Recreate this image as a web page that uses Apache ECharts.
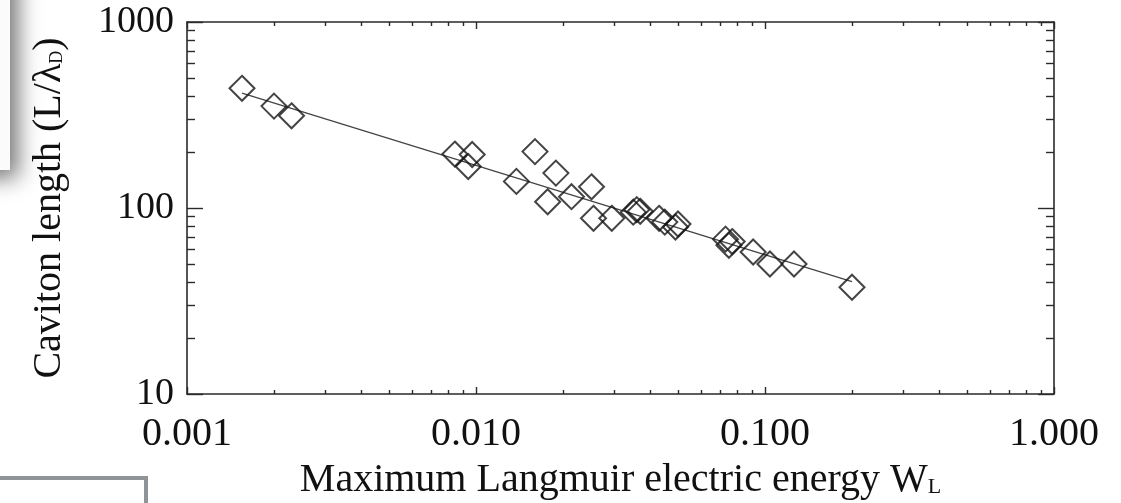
<!DOCTYPE html>
<html>
<head>
<meta charset="utf-8">
<style>
  html, body { margin: 0; padding: 0; background: #ffffff; }
  #chart { width: 1121px; height: 503px; }
</style>
<script src="https://cdn.jsdelivr.net/npm/echarts@6/dist/echarts.min.js"></script>
</head>
<body>
<div id="chart"></div>
<script>
// ---- data ----
const energyW = [0.00155, 0.0020, 0.0023, 0.00845, 0.0097, 0.0094, 0.0138, 0.016, 0.0177, 0.0189,
                 0.0214, 0.0251, 0.0255, 0.0295, 0.035, 0.036, 0.037, 0.043, 0.045, 0.049,
                 0.050, 0.073, 0.075, 0.077, 0.091, 0.104, 0.126, 0.20];
const cavitonLength = [440, 353, 313, 195, 194, 167, 139, 201, 108, 154,
                       115, 130, 88, 88, 95, 98, 96, 88, 84, 79,
                       82, 68, 63, 66, 58, 50, 50, 37.5];
const fitW = [0.00155, 0.20];
const fitL = [414, 40.2];

const xMajorTicks = [0.001, 0.01, 0.1, 1];
const xMinorTicks = [0.002, 0.003, 0.004, 0.005, 0.006, 0.007, 0.008, 0.009,
                     0.02, 0.03, 0.04, 0.05, 0.06, 0.07, 0.08, 0.09,
                     0.2, 0.3, 0.4, 0.5, 0.6, 0.7, 0.8, 0.9];
const yMajorTicks = [10, 100, 1000];
const yMinorTicks = [20, 30, 40, 50, 60, 70, 80, 90, 200, 300, 400, 500, 600, 700, 800, 900];

const xTitle = 'Maximum Langmuir electric energy W{sub|L}';
const yTitle = 'Caviton length (L/\u03bb{sub|D})';

// ---- chart ----
const FONT = '"Liberation Serif", "Times New Roman", serif';
const AX = '#2a2a2a';

function xAxisDef(pos, ticks, len, showLine, showLabel) {
  return {
    type: 'log', logBase: 10, min: 0.001, max: 1, position: pos,
    axisLine: { show: showLine, lineStyle: { color: AX, width: 1.6 } },
    axisTick: { show: true, inside: true, length: len, customValues: ticks,
                lineStyle: { color: AX, width: 1.4 } },
    axisLabel: { show: showLabel, customValues: ticks, margin: 20,
                 fontFamily: FONT, fontSize: 40, color: '#111',
                 formatter: v => Number(v).toFixed(3) },
    splitLine: { show: false }, minorTick: { show: false }
  };
}
function yAxisDef(pos, ticks, len, showLine, showLabel) {
  return {
    type: 'log', logBase: 10, min: 10, max: 1000, position: pos,
    axisLine: { show: showLine, lineStyle: { color: AX, width: 1.6 } },
    axisTick: { show: true, inside: true, length: len, customValues: ticks,
                lineStyle: { color: AX, width: 1.4 } },
    axisLabel: { show: showLabel, customValues: ticks, margin: 13,
                 fontFamily: FONT, fontSize: 38, color: '#111',
                 formatter: v => String(Math.round(v)) },
    splitLine: { show: false }, minorTick: { show: false }
  };
}

const xAxes = [
  xAxisDef('bottom', xMajorTicks, 7, true, true),
  xAxisDef('bottom', xMinorTicks, 4, false, false),
  xAxisDef('top', xMajorTicks, 7, true, false),
  xAxisDef('top', xMinorTicks, 4, false, false)
];
Object.assign(xAxes[0], {
  name: xTitle, nameLocation: 'middle', nameGap: 66,
  nameTextStyle: { fontFamily: FONT, fontSize: 40, color: '#111',
    rich: { sub: { fontFamily: FONT, fontSize: 22, color: '#111', padding: [15, 0, 0, 0] } } }
});
const yAxes = [
  yAxisDef('left', yMajorTicks, 16, true, true),
  yAxisDef('left', yMinorTicks, 8, false, false),
  yAxisDef('right', yMajorTicks, 16, true, false),
  yAxisDef('right', yMinorTicks, 8, false, false)
];
Object.assign(yAxes[0], {
  name: yTitle, nameLocation: 'middle', nameGap: 118, nameRotate: 90,
  nameTextStyle: { fontFamily: FONT, fontSize: 40, color: '#111',
    rich: { sub: { fontFamily: FONT, fontSize: 18, color: '#111', padding: [16, 0, 0, 0] } } }
});

const chart = echarts.init(document.getElementById('chart'), null, { renderer: 'canvas' });
chart.setOption({
  animation: false,
  backgroundColor: '#ffffff',
  grid: { left: 187, right: 67, top: 22, bottom: 109, containLabel: false, outerBoundsMode: 'none' },
  xAxis: xAxes,
  yAxis: yAxes,
  graphic: [
    { type: 'rect', shape: { x: -40, y: -40, width: 50, height: 210 },
      style: { fill: '#fbfbfb', shadowBlur: 22, shadowColor: 'rgba(0,0,0,0.55)', shadowOffsetX: 8, shadowOffsetY: 8 },
      z: -1 },
    { type: 'polyline', shape: { points: [[0, 478], [146, 478], [146, 505]] },
      style: { stroke: '#8f9499', lineWidth: 4, fill: null } }
  ],
  series: [
    {
      type: 'line', data: fitW.map((w, i) => [w, fitL[i]]),
      showSymbol: false, symbol: 'none',
      lineStyle: { color: '#444', width: 1.3 }, z: 2
    },
    {
      type: 'scatter', data: energyW.map((w, i) => [w, cavitonLength[i]]),
      symbol: 'diamond', symbolSize: 25,
      itemStyle: { color: 'rgba(0,0,0,0)', borderColor: '#151515', borderWidth: 2 }, z: 3
    }
  ]
});
</script>
</body>
</html>
